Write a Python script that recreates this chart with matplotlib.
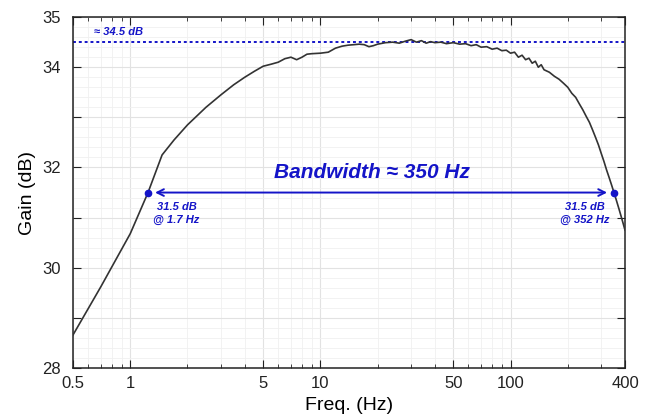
import matplotlib
matplotlib.use("Agg")
import matplotlib.pyplot as plt
from matplotlib.ticker import FixedLocator, FixedFormatter, LogLocator, MultipleLocator, NullFormatter

plt.rcParams["font.family"] = ["Liberation Sans", "DejaVu Sans"]

# gain curve
freq = [0.5, 0.7, 1.0, 1.24, 1.47, 1.7, 2.0, 2.5, 3.0, 3.5, 4.0, 4.5, 5.0, 5.5,
        6.0, 6.5, 7.0, 7.5, 8.0, 8.5, 9.0, 10, 11, 12, 13, 14, 15, 16, 17, 18,
        19, 20, 22, 24, 26, 28, 30, 32, 34, 36, 38, 40, 43, 46, 50, 54, 58, 62,
        66, 70, 75, 80, 85, 90, 95, 100, 105, 110, 115, 120, 125, 130, 135, 140,
        145, 150, 160, 170, 180, 190, 200, 210, 220, 230, 240, 250, 260, 270,
        280, 290, 300, 310, 320, 330, 340, 350, 360, 370, 380, 390, 400]
gain = [28.66, 29.62, 30.68, 31.5, 32.25, 32.55, 32.85, 33.2, 33.45, 33.65, 33.8,
        33.92, 34.02, 34.06, 34.1, 34.17, 34.2, 34.15, 34.2, 34.26, 34.27, 34.28,
        34.3, 34.38, 34.42, 34.44, 34.45, 34.46, 34.45, 34.41, 34.43, 34.46, 34.49,
        34.5, 34.48, 34.52, 34.55, 34.5, 34.53, 34.48, 34.51, 34.49, 34.5, 34.47,
        34.49, 34.46, 34.47, 34.43, 34.45, 34.4, 34.41, 34.36, 34.38, 34.33, 34.34,
        34.28, 34.3, 34.2, 34.24, 34.15, 34.18, 34.08, 34.12, 34.0, 34.05, 33.95,
        33.9, 33.82, 33.76, 33.68, 33.6, 33.48, 33.4, 33.27, 33.15, 33.02, 32.9,
        32.75, 32.6, 32.45, 32.28, 32.12, 31.95, 31.8, 31.65, 31.5, 31.35, 31.2,
        31.05, 30.9, 30.75]

peak_gain = 34.5
cut_gain = 31.5
cut_freqs = [1.24, 350]
cut_labels = ["31.5 dB\n@ 1.7 Hz", "31.5 dB\n@ 352 Hz"]

x_ticks = [0.5, 1, 5, 10, 50, 100, 400]
x_labels = ["0.5", "1", "5", "10", "50", "100", "400"]
y_ticks = [28, 29, 30, 31, 32, 33, 34, 35]
y_labels = ["28", "", "30", "", "32", "", "34", "35"]

blue = "#1414c8"

fig = plt.figure(figsize=(6.52, 4.17), dpi=100)
ax = fig.add_axes([0.112, 0.1175, 0.8466, 0.8415])

ax.plot(freq, gain, color="#333333", lw=1.2, zorder=3)

ax.axhline(peak_gain, color=blue, ls=(0, (1.5, 1.5)), lw=1.4, zorder=2)
ax.text(0.645, 34.7, "\u2248 34.5 dB", color=blue, fontsize=8, fontweight="bold",
        style="italic", va="center")

ax.plot(cut_freqs, [cut_gain] * 2, "o", color=blue, ms=4.5, zorder=4)
ax.annotate("", xy=(1.35, cut_gain), xytext=(322, cut_gain),
            arrowprops=dict(arrowstyle="<->", color=blue, lw=1.4,
                            mutation_scale=12, shrinkA=0, shrinkB=0))
ax.text(18.7, 31.9, "Bandwidth \u2248 350 Hz", color=blue, fontsize=15,
        fontweight="bold", style="italic", ha="center", va="center")
ax.text(1.75, 31.08, cut_labels[0], color=blue, fontsize=8, fontweight="bold",
        style="italic", ha="center", va="center", linespacing=1.35)
ax.text(247, 31.08, cut_labels[1], color=blue, fontsize=8, fontweight="bold",
        style="italic", ha="center", va="center", linespacing=1.35)

ax.set_xscale("log")
ax.set_xlim(0.5, 400)
ax.set_ylim(28, 35)
ax.xaxis.set_major_locator(FixedLocator(x_ticks))
ax.xaxis.set_major_formatter(FixedFormatter(x_labels))
ax.xaxis.set_minor_locator(LogLocator(base=10, subs=range(2, 10)))
ax.xaxis.set_minor_formatter(NullFormatter())
ax.yaxis.set_major_locator(FixedLocator(y_ticks))
ax.yaxis.set_major_formatter(FixedFormatter(y_labels))
ax.yaxis.set_minor_locator(MultipleLocator(0.2))

ax.grid(which="major", color="#e2e2e2", lw=0.8)
ax.grid(which="minor", color="#f0f0f0", lw=0.6)
ax.set_axisbelow(True)

ax.tick_params(which="both", direction="in", top=True, right=True,
               labelsize=12, colors="#222222")
ax.tick_params(axis="x", which="major", length=6, pad=6)
ax.tick_params(axis="y", which="major", length=6, pad=9)
ax.tick_params(which="minor", length=3)
ax.tick_params(axis="y", which="minor", length=0)
for s in ax.spines.values():
    s.set_color("#222222")
    s.set_linewidth(1.1)

ax.set_xlabel("Freq. (Hz)", fontsize=14, labelpad=4)
ax.set_ylabel("Gain (dB)", fontsize=14, labelpad=4)

fig.savefig("out.png", dpi=100)
